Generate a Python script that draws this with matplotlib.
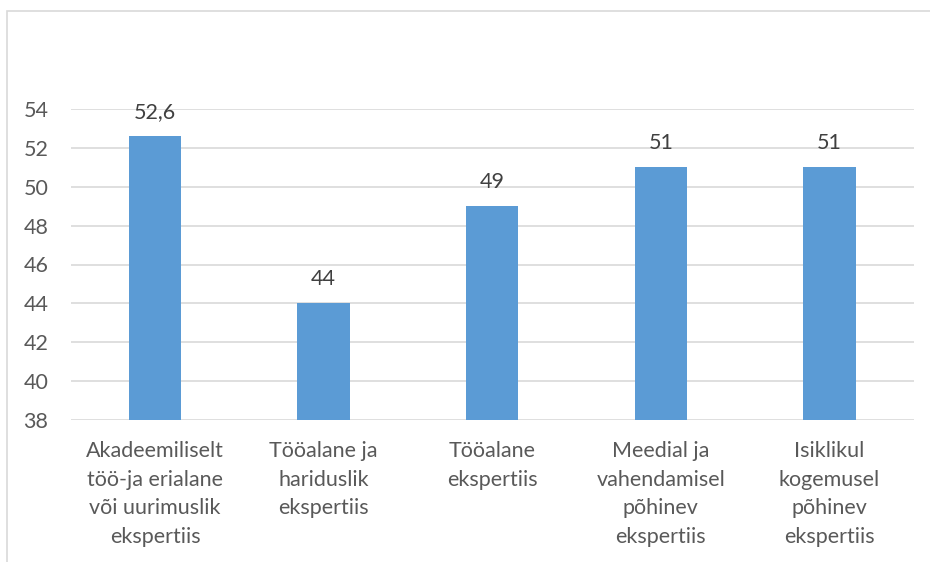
import matplotlib.pyplot as plt
from matplotlib.patches import Rectangle

plt.rcParams['font.family'] = ['Lato', 'DejaVu Sans']

# data
categories = ['Akadeemiliselt\ntöö-ja erialane\nvõi uurimuslik\nekspertiis',
              'Tööalane ja\nhariduslik\nekspertiis',
              'Tööalane\nekspertiis',
              'Meedial ja\nvahendamisel\npõhinev\nekspertiis',
              'Isiklikul\nkogemusel\npõhinev\nekspertiis']
values = [52.6, 44, 49, 51, 51]
value_labels = ['52,6', '44', '49', '51', '51']
yticks = [38, 40, 42, 44, 46, 48, 50, 52, 54]

W, H = 930, 562
fig = plt.figure(figsize=(W / 100, H / 100), dpi=100)
# chart border (runs off the right and bottom edges)
fig.patches.append(Rectangle((7 / W, -0.05), 1.0, 1 - 11 / H + 0.05,
                             transform=fig.transFigure, fill=False,
                             edgecolor='#d9d9d9', linewidth=1.2))

ax = fig.add_axes([70.7 / W, 1 - 420 / H, (913.8 - 70.7) / W, (420 - 109) / H])
x = range(len(values))
ax.bar(x, [v - 38 for v in values], bottom=38, width=0.31, color='#5b9bd5', zorder=3)
for i, (v, lab) in enumerate(zip(values, value_labels)):
    ax.annotate(lab, (i, v), xytext=(0, 10), textcoords='offset points',
                ha='center', va='bottom', fontsize=15.5, color='#404040')

ax.set_ylim(38, 54)
ax.set_xlim(-0.5, len(values) - 0.5)
ax.set_yticks(yticks)
ax.set_yticklabels([str(t) for t in yticks], fontsize=15.5, color='#595959')
ax.set_xticks(list(x))
ax.set_xticklabels(categories, fontsize=15.5, color='#595959', linespacing=1.55)
ax.tick_params(length=0)
ax.tick_params(axis='y', pad=16)
ax.tick_params(axis='x', pad=15)
ax.grid(axis='y', color='#d9d9d9', linewidth=1.2, zorder=0)
for s in ax.spines.values():
    s.set_visible(False)

plt.savefig('out.png', dpi=100)
